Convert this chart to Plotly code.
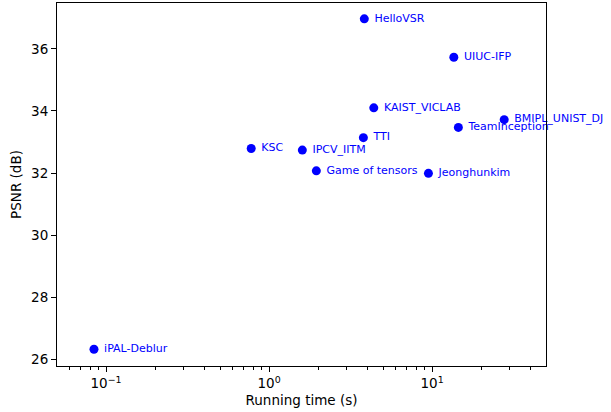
import plotly.graph_objects as go

teams = ["HelloVSR", "UIUC-IFP", "KAIST_VICLAB", "BMIPL_UNIST_DJ", "TeamInception",
         "TTI", "KSC", "IPCV_IITM", "Game of tensors", "Jeonghunkim", "iPAL-Deblur"]
running_time = [3.84, 13.6, 4.39, 27.7, 14.5, 3.79, 0.777, 1.60, 1.95, 9.50, 0.0843]
psnr = [36.97, 35.73, 34.10, 33.72, 33.47, 33.14, 32.79, 32.74, 32.07, 31.99, 26.32]

x_tickvals = [0.1, 1, 10]
x_ticktext = ["10<sup>−1</sup>", "10<sup>0</sup>", "10<sup>1</sup>"]
x_minor_tickvals = [0.06, 0.07, 0.08, 0.09,
                    0.2, 0.3, 0.4, 0.5, 0.6, 0.7, 0.8, 0.9,
                    2, 3, 4, 5, 6, 7, 8, 9,
                    20, 30, 40]
y_tickvals = [26, 28, 30, 32, 34, 36]

font = "DejaVu Sans"

fig = go.Figure()
fig.add_trace(go.Scatter(
    x=running_time, y=psnr, mode="markers+text",
    text=[" " + t for t in teams],
    textposition="middle right",
    textfont=dict(family=font, size=11, color="#0000ff"),
    marker=dict(color="#0000ff", size=9),
    cliponaxis=False,
    showlegend=False,
    hoverinfo="x+y+text",
))

axis_common = dict(
    showline=True, linecolor="black", linewidth=1, mirror=True,
    ticks="outside", ticklen=5, tickwidth=1, tickcolor="black",
    showgrid=False, zeroline=False,
    tickfont=dict(family=font, size=13.5, color="black"),
)

fig.update_xaxes(
    type="log", range=[-1.301, 1.699],
    tickvals=x_tickvals, ticktext=x_ticktext,
    title=dict(text="Running time (s)", font=dict(family=font, size=13.5, color="black"), standoff=5),
    minor=dict(tickvals=x_minor_tickvals, ticks="outside", ticklen=3, tickcolor="black",
               tickwidth=1, showgrid=False),
    **axis_common,
)
fig.update_yaxes(
    range=[25.78, 37.48],
    tickvals=y_tickvals,
    title=dict(text="PSNR (dB)", font=dict(family=font, size=13.5, color="black"), standoff=6),
    **axis_common,
)

fig.update_layout(
    width=611, height=412,
    margin=dict(l=57, r=65, t=3, b=46, autoexpand=False),
    plot_bgcolor="white", paper_bgcolor="white",
    font=dict(family=font),
)

fig.write_html("out.html", config={"displayModeBar": False},
               post_script="document.body.style.margin='0';")
